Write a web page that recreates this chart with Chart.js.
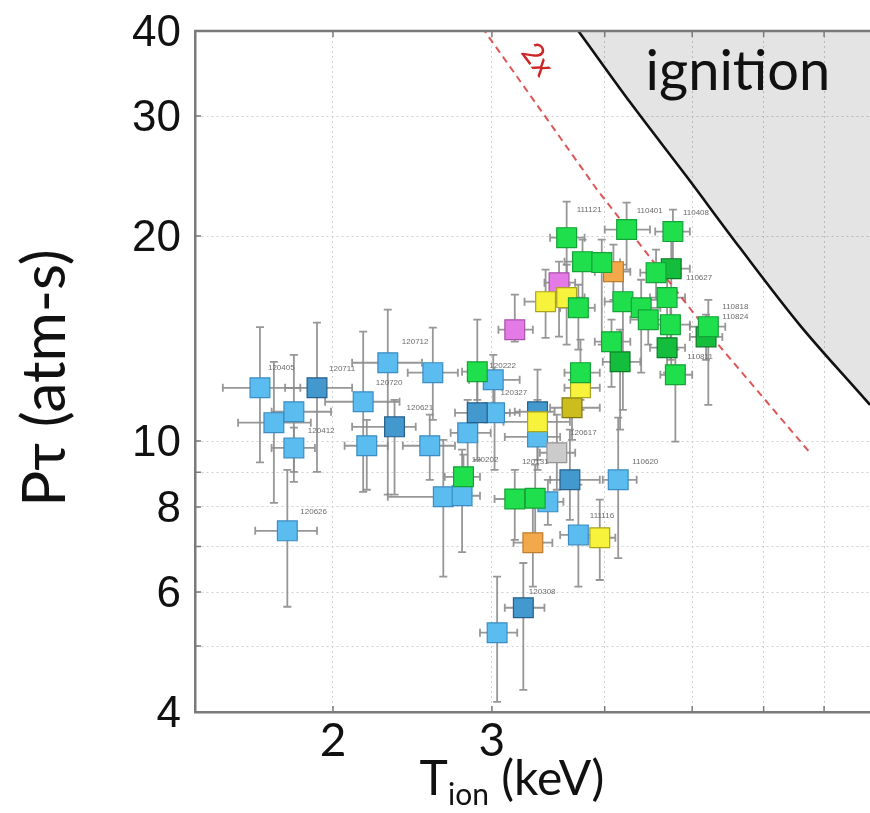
<!DOCTYPE html>
<html><head><meta charset="utf-8">
<script src="https://cdn.jsdelivr.net/npm/chart.js@4.4.1/dist/chart.umd.min.js"></script>
<style>html,body{margin:0;padding:0;background:#fff;}#wrap{width:870px;height:813px;}</style>
</head><body><div id="wrap"><canvas id="c" width="870" height="813"></canvas></div>
<script>
// ---- data ----
const xTickValues = [2, 3, 4, 5, 6, 7];
const xTickLabels = [2, 3];
const yTickValues = [4, 5, 6, 7, 8, 9, 10, 20, 30, 40];
const yTickLabels = [4, 6, 8, 10, 20, 30, 40];

const group = ['b','b','b','b','bd','b','b','b','bd','b','b','b','b','b','bd','b','b','b','bd','b','bd','b','b','b','bd','b',
  'gy','o','o','m','m','y','y','y','yd','y','y',
  'g','g','g','g','g','g','g','g','g','gd','g','g','g','g','gd','g','gd','gd','g','g','g','g','g','g'];
const tion = [1.66,1.72,1.81,1.81,1.92,2.16,2.30,2.18,2.34,2.58,2.56,1.78,2.65,2.78,2.89,3.02,2.82,3.01,3.37,3.37,3.66,4.14,3.46,3.74,3.25,3.04,
  3.54,4.09,3.33,3.56,3.18,3.44,3.63,3.76,3.68,3.37,3.95,
  3.63,3.78,3.97,4.23,4.76,3.74,4.19,4.39,4.56,4.74,4.69,4.47,4.73,5.21,5.18,4.07,4.16,4.69,4.79,3.76,2.89,2.79,3.18,3.35];
const ptau = [11.97,10.64,11.04,9.77,11.97,11.42,13.03,9.84,10.49,12.60,9.84,7.38,8.28,8.31,11.0,11.0,10.28,12.30,11.04,10.14,8.77,8.77,8.14,7.28,5.69,5.23,
  9.61,17.73,7.09,17.08,14.57,16.02,16.24,11.97,11.19,10.67,7.21,
  19.89,18.34,18.28,20.44,20.30,15.69,16.02,15.69,17.67,17.91,16.24,15.07,14.82,14.72,14.22,13.99,13.07,13.71,12.51,12.60,12.64,8.86,8.22,8.24];
const tionLo = [1.51,1.57,1.71,1.71,1.77,1.96,2.10,2.06,2.10,2.42,2.39,1.64,2.30,2.70,2.73,2.83,2.70,2.83,3.18,3.10,3.48,3.98,3.35,3.57,3.10,2.91,
  3.39,3.90,3.17,3.43,3.05,3.26,3.52,3.61,3.48,3.09,3.80,
  3.48,3.61,3.80,4.00,4.55,3.57,4.00,4.22,4.38,4.55,4.49,4.27,4.55,4.97,4.97,3.90,3.98,4.49,4.61,3.61,2.78,2.66,3.02,3.22];
const tionHi = [1.84,1.89,1.99,1.91,2.10,2.37,2.51,2.30,2.47,2.75,2.73,1.92,2.70,2.91,3.14,3.22,2.99,3.22,3.52,3.57,3.95,4.34,3.60,3.95,3.43,3.20,
  3.71,4.27,3.50,3.71,3.33,3.61,3.80,3.95,3.95,3.66,4.11,
  3.80,3.95,4.16,4.49,4.97,3.90,4.38,4.61,4.79,4.97,4.91,4.66,4.97,5.44,5.40,4.27,4.38,4.91,5.00,3.95,3.02,2.91,3.35,3.48];
const ptauLo = [9.3,8.11,8.71,9.01,9.01,8.42,8.34,8.48,8.34,10.74,8.77,5.71,6.32,6.87,9.38,9.07,9.07,10.74,9.38,9.07,7.66,6.73,7.53,6.11,4.31,4.14,
  8.48,16.12,6.11,14.23,13.99,14.17,13.85,11.11,10.04,9.87,6.25,
  16.96,16.12,13.85,17.85,18.34,13.62,11.11,12.60,16.12,12.60,15.07,13.85,13.16,11.30,13.16,12.01,10.39,12.60,9.98,11.49,11.49,8.20,7.16,7.04];
const ptauHi = [14.7,13.07,13.38,10.46,14.92,14.47,15.59,10.74,11.49,14.67,10.93,9.07,10.04,9.71,12.30,12.10,11.49,13.38,12.73,11.11,10.39,10.82,8.77,8.63,6.62,6.32,
  10.93,19.43,8.48,18.34,16.40,17.85,18.15,12.73,12.30,11.49,8.20,
  22.46,19.75,19.75,22.39,21.87,16.96,18.15,17.25,19.1,19.75,17.55,16.12,15.85,16.12,15.33,15.07,14.57,14.82,13.62,14.09,15.07,9.55,9.07,9.23];

// ignition boundary and "2x" curve
const ignitionT = [3.58, 3.74, 4.27, 4.93, 5.65, 6.58, 7.87, 8.2];
const ignitionP = [43.3, 40.0, 31.4, 24.45, 19.2, 14.8, 11.3, 10.6];
const twoXT = [2.925, 3.922, 5.367, 6.753];
const twoXP = [40.5, 23.4, 13.76, 9.61];

// shot-number labels: text, point index
const shotText = ['120405','120711','120712','120720','120412','120626','120621','120617','120131','110620','111116','120308','120202','110627','110818','110824','110811','110401','110408','111121','120222','120327'];
const shotPoint = [0,4,6,6,2,11,8,34,20,21,36,28,16,45,50,50,55,40,41,37,57,15];

// ---- styling ----
const shotOffset = [[8,-20],[12,-19],[14,-21],[-12,20],[14,19],[13,-19],[12,-19],[-2,25],[-48,-18],[14,-18],[-10,-22],[-4,49],[4,27],[30,5],[14,-20],[14,-10],[12,-18],[10,-19],[10,-19],[10,-28],[12,-6],[6,-20]];
const styles = {
  b:['#5bbcef','#3b8cc2'], bd:['#4398cd','#255f8a'], g:['#1fe04c','#13a336'], gd:['#15bd3d','#0b7a25'],
  y:['#f7f23b','#aaa41c'], yd:['#cbbd1d','#80770e'], o:['#f2a84b','#bd7d2e'], m:['#e47ae6','#a852aa'], gy:['#cbcbcb','#949494']
};
const order = ['b','bd','gy','o','m','yd','y','gd','g'];

const datasets = [];
order.forEach((k, gi) => {
  const pts = [];
  tion.forEach((t, i) => { if (group[i] === k) pts.push({x: t, y: ptau[i]}); });
  datasets.push({ data: pts, showLine: false, pointStyle: 'rect', pointRadius: 14, pointHoverRadius: 14,
    backgroundColor: styles[k][0], borderColor: styles[k][1], borderWidth: 1.2, order: 9 - gi });
});
datasets.push({ data: twoXT.map((t,i)=>({x:t, y:twoXP[i]})), showLine: true, fill: false, pointRadius: 0,
  borderColor: 'rgba(214,58,58,0.85)', borderWidth: 2, borderDash: [7,5], order: 20 });
datasets.push({ data: ignitionT.map((t,i)=>({x:t, y:ignitionP[i]})), showLine: true, fill: 'end', pointRadius: 0,
  backgroundColor: 'rgba(0,0,0,0.105)', borderColor: '#111', borderWidth: 2.6, cubicInterpolationMode: 'monotone', order: 30 });

const errorBars = {
  id: 'errorBars',
  beforeDatasetsDraw(chart) {
    const {ctx, chartArea: a, scales: {x, y}} = chart;
    ctx.save();
    ctx.beginPath(); ctx.rect(a.left, a.top, a.width, a.height); ctx.clip();
    ctx.strokeStyle = 'rgba(140,140,140,0.9)';
    ctx.lineWidth = 1.8;
    const c = 4;
    for (let i = 0; i < tion.length; i++) {
      const px = x.getPixelForValue(tion[i]), py = y.getPixelForValue(ptau[i]);
      const x0 = x.getPixelForValue(tionLo[i]), x1 = x.getPixelForValue(tionHi[i]);
      const y0 = y.getPixelForValue(ptauLo[i]), y1 = y.getPixelForValue(ptauHi[i]);
      ctx.beginPath();
      ctx.moveTo(x0, py); ctx.lineTo(x1, py);
      ctx.moveTo(x0, py - c); ctx.lineTo(x0, py + c);
      ctx.moveTo(x1, py - c); ctx.lineTo(x1, py + c);
      ctx.moveTo(px, y0); ctx.lineTo(px, y1);
      ctx.moveTo(px - c, y0); ctx.lineTo(px + c, y0);
      ctx.moveTo(px - c, y1); ctx.lineTo(px + c, y1);
      ctx.stroke();
    }
    ctx.restore();
  }
};

const deco = {
  id: 'deco',
  afterDatasetsDraw(chart) {
    const {ctx, chartArea: a, scales: {x, y}} = chart;
    ctx.save();
    // shot labels
    ctx.font = '8px "Liberation Sans"';
    ctx.fillStyle = '#6c6c6c';
    ctx.textAlign = 'left'; ctx.textBaseline = 'middle';
    shotText.forEach((t, k) => {
      const i = shotPoint[k];
      ctx.fillText(t, x.getPixelForValue(tion[i]) + shotOffset[k][0], y.getPixelForValue(ptau[i]) + shotOffset[k][1]);
    });
    // ignition label
    ctx.fillStyle = '#111';
    ctx.font = '56px Lato';
    ctx.textBaseline = 'alphabetic';
    ctx.fillText('ignition', x.getPixelForValue(4.44), y.getPixelForValue(32.8));
    // 2x label
    ctx.save();
    ctx.translate(x.getPixelForValue(3.37), y.getPixelForValue(36.3));
    ctx.rotate(53 * Math.PI / 180);
    ctx.fillStyle = '#cc2727';
    ctx.font = '30px Lato';
    ctx.textAlign = 'center'; ctx.textBaseline = 'middle';
    ctx.fillText('2x', 0, 0);
    ctx.restore();
    ctx.restore();
  },
  afterDraw(chart) {
    const {ctx, chartArea: a, scales: {x, y}} = chart;
    ctx.save();
    ctx.strokeStyle = '#7a7a7a';
    ctx.lineWidth = 2.5;
    ctx.beginPath(); ctx.moveTo(a.left - 1, a.top); ctx.lineTo(a.right, a.top); ctx.stroke();
    ctx.lineWidth = 1.5;
    ctx.beginPath();
    yTickValues.forEach(v => { const p = y.getPixelForValue(v); ctx.moveTo(a.left, p); ctx.lineTo(a.left + 6, p); });
    xTickValues.forEach(v => { const p = x.getPixelForValue(v);
      ctx.moveTo(p, a.bottom); ctx.lineTo(p, a.bottom - 6); ctx.moveTo(p, a.top); ctx.lineTo(p, a.top + 6); });
    ctx.stroke();
    // y title
    ctx.fillStyle = '#111';
    ctx.save();
    ctx.translate(46, 378);
    ctx.rotate(-Math.PI / 2);
    ctx.font = '60px Lato';
    ctx.textAlign = 'center'; ctx.textBaseline = 'middle';
    ctx.fillText('P\u03C4 (atm-s)', 0, 0);
    ctx.restore();
    // x title with subscript
    ctx.textBaseline = 'alphabetic'; ctx.textAlign = 'left';
    const big = '48px Lato', small = '30px Lato';
    ctx.font = big; const wT = ctx.measureText('T').width; const wK = ctx.measureText(' (keV)').width;
    ctx.font = small; const wS = ctx.measureText('ion').width;
    let sx = 512 - (wT + wS + wK) / 2;
    const base = 795;
    ctx.font = big; ctx.fillText('T', sx, base); sx += wT;
    ctx.font = small; ctx.fillText('ion', sx, base + 10); sx += wS;
    ctx.font = big; ctx.fillText(' (keV)', sx, base);
    ctx.restore();
  }
};

new Chart(document.getElementById('c'), {
  type: 'line',
  data: { datasets },
  options: {
    responsive: false, animation: false, devicePixelRatio: 1,
    layout: { autoPadding: false, padding: { top: 31, right: 0, left: 0, bottom: 0 } },
    plugins: { legend: { display: false }, tooltip: { enabled: false } },
    scales: {
      x: {
        type: 'logarithmic', min: 1.4065, max: 7.87,
        afterBuildTicks: s => { s.ticks = xTickValues.map(v => ({ value: v })); },
        afterFit: s => { s.height = 101; s.paddingLeft = 0; s.paddingRight = 0; },
        ticks: { autoSkip: false, maxRotation: 0, padding: 2, color: '#111', font: { family: 'Lato', size: 46 },
          callback: v => xTickLabels.includes(v) ? String(v) : '' },
        grid: { color: '#cfcfcf', lineWidth: 1, drawTicks: false },
        border: { display: true, color: '#7a7a7a', width: 2.5, dash: [2, 3] }
      },
      y: {
        type: 'logarithmic', min: 4, max: 40,
        afterBuildTicks: s => { s.ticks = yTickValues.map(v => ({ value: v })); },
        afterFit: s => { s.width = 195; s.paddingTop = 0; s.paddingBottom = 0; },
        ticks: { autoSkip: false, padding: 14, labelOffset: 3, color: '#111', font: { family: 'Liberation Sans', size: 44 },
          callback: v => yTickLabels.includes(v) ? String(v) : '' },
        grid: { color: '#cfcfcf', lineWidth: 1, drawTicks: false },
        border: { display: true, color: '#7a7a7a', width: 2.5, dash: [2, 3] }
      }
    }
  },
  plugins: [errorBars, deco]
});
</script></body></html>
